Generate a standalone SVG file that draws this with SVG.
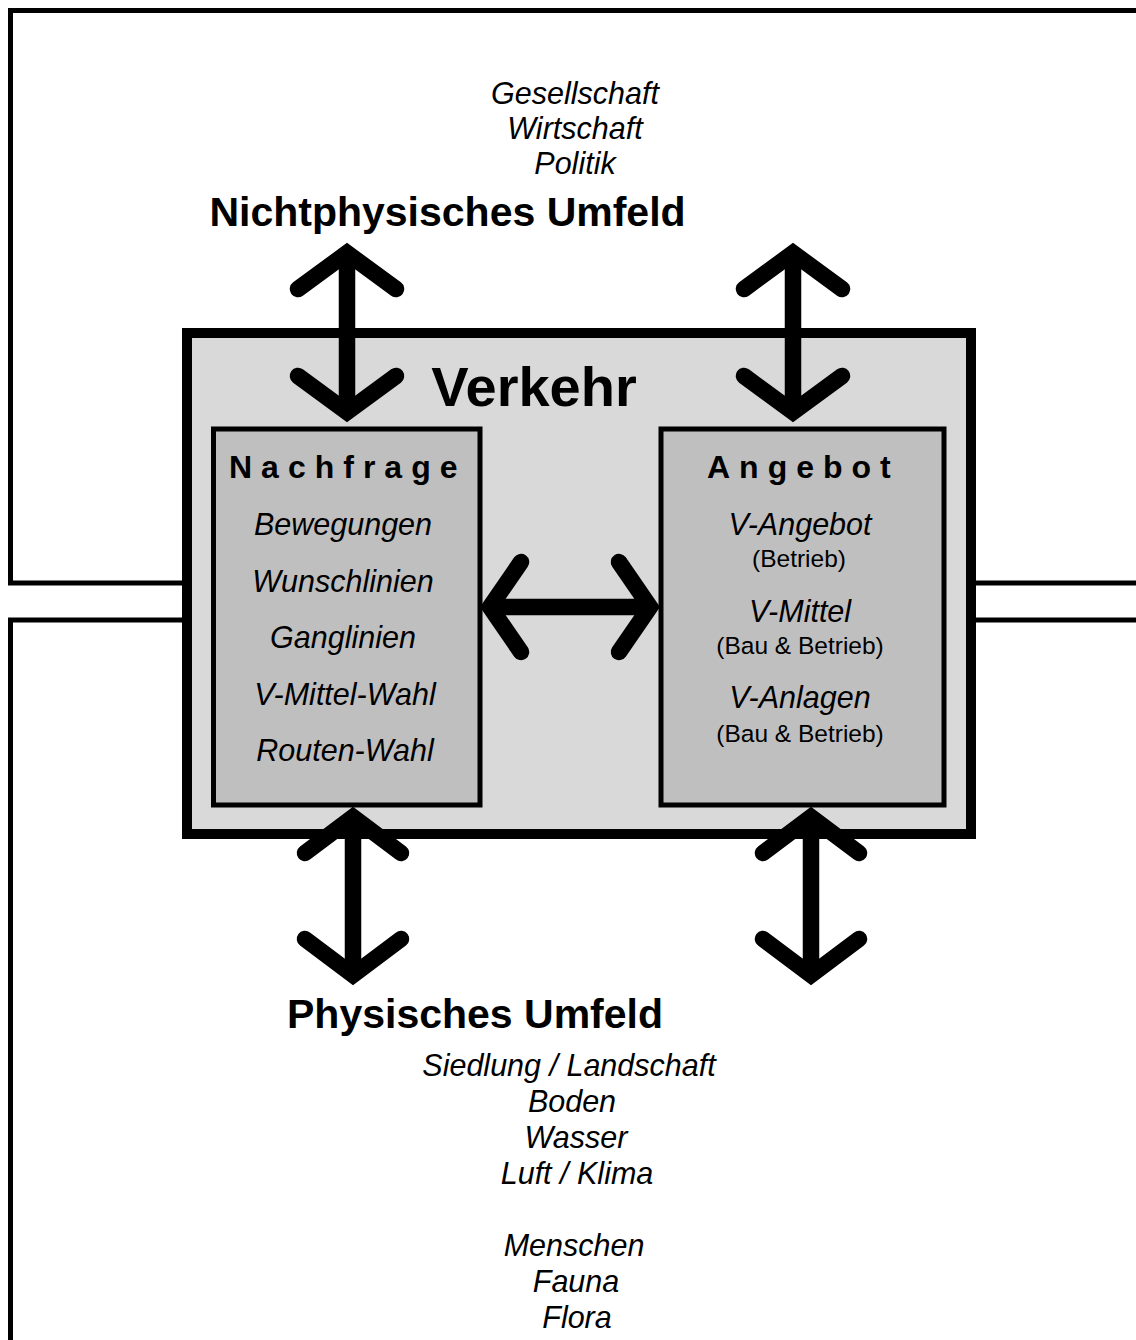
<svg xmlns="http://www.w3.org/2000/svg" width="1136" height="1340" viewBox="0 0 1136 1340">
<defs>
<style>
.frame{fill:none;stroke:#000;stroke-width:5}
.main{fill:#d9d9d9;stroke:#000;stroke-width:10}
.inner{fill:#bfbfbf;stroke:#000;stroke-width:5}
.arrow{fill:none;stroke:#000;stroke-width:16.5;stroke-linecap:round;stroke-linejoin:miter;stroke-miterlimit:10}
text{font-family:"Liberation Sans",Arial,Helvetica,sans-serif;fill:#000}
.it{font-style:italic;font-size:30.5px;text-anchor:middle}
.sm{font-size:24.5px;text-anchor:middle}
.big{font-weight:bold;font-size:41px;text-anchor:middle}
.title{font-weight:bold;font-size:56px;text-anchor:middle}
.hdr{font-weight:bold;font-size:32px;letter-spacing:9px}
</style>
</defs>
<rect width="1136" height="1340" fill="#fff"/>
<g id="nichtphysisches-umfeld">
<rect class="frame" x="10.5" y="10.5" width="1140" height="572.5"/>
<text class="it" x="575" y="104">Gesellschaft</text>
<text class="it" x="575" y="139">Wirtschaft</text>
<text class="it" x="575" y="174">Politik</text>
<text class="big" x="447.5" y="226">Nichtphysisches Umfeld</text>
</g>
<g id="physisches-umfeld">
<rect class="frame" x="10.5" y="620" width="1140" height="740"/>
<text class="big" x="475" y="1028">Physisches Umfeld</text>
<text class="it" x="569" y="1076">Siedlung / Landschaft</text>
<text class="it" x="572" y="1112">Boden</text>
<text class="it" x="576" y="1148">Wasser</text>
<text class="it" x="577" y="1184">Luft / Klima</text>
<text class="it" x="574" y="1256">Menschen</text>
<text class="it" x="576" y="1292">Fauna</text>
<text class="it" x="577" y="1328">Flora</text>
</g>
<g id="verkehr">
<rect class="main" x="187" y="333" width="784" height="501"/>
<text class="title" x="534" y="406">Verkehr</text>
</g>
<g id="nachfrage">
<rect class="inner" x="213.5" y="429" width="266.5" height="376"/>
<text class="hdr" x="229" y="478">Nachfrage</text>
<text class="it" x="343" y="535">Bewegungen</text>
<text class="it" x="343" y="591.5">Wunschlinien</text>
<text class="it" x="343" y="648">Ganglinien</text>
<text class="it" x="345" y="704.5">V-Mittel-Wahl</text>
<text class="it" x="345" y="761">Routen-Wahl</text>
</g>
<g id="angebot">
<rect class="inner" x="661" y="429" width="283" height="376"/>
<text class="hdr" x="707" y="478">Angebot</text>
<text class="it" x="800" y="535">V-Angebot</text>
<text class="sm" x="799" y="567">(Betrieb)</text>
<text class="it" x="800" y="621.5">V-Mittel</text>
<text class="sm" x="800" y="654">(Bau &amp; Betrieb)</text>
<text class="it" x="800" y="708">V-Anlagen</text>
<text class="sm" x="800" y="742">(Bau &amp; Betrieb)</text>
</g>
<g id="connectors">
<polyline class="arrow" points="298,289 347,253 396,289"/>
<line class="arrow" x1="347" y1="253" x2="347" y2="412" style="stroke-linecap:butt"/>
<polyline class="arrow" points="298,376 347,412 396,376"/>
<polyline class="arrow" points="744,289 793,253 842,289"/>
<line class="arrow" x1="793" y1="253" x2="793" y2="412" style="stroke-linecap:butt"/>
<polyline class="arrow" points="744,376 793,412 842,376"/>
<polyline class="arrow" points="305,853 353,817 401,853"/>
<line class="arrow" x1="353" y1="817" x2="353" y2="975" style="stroke-linecap:butt"/>
<polyline class="arrow" points="305,939 353,975 401,939"/>
<polyline class="arrow" points="763,853 811,817 859,853"/>
<line class="arrow" x1="811" y1="817" x2="811" y2="975" style="stroke-linecap:butt"/>
<polyline class="arrow" points="763,939 811,975 859,939"/>
<polyline class="arrow" points="521,562 490,607 521,652"/>
<line class="arrow" x1="490" y1="607" x2="650" y2="607" style="stroke-linecap:butt"/>
<polyline class="arrow" points="619,562 650,607 619,652"/>
</g>
</svg>
